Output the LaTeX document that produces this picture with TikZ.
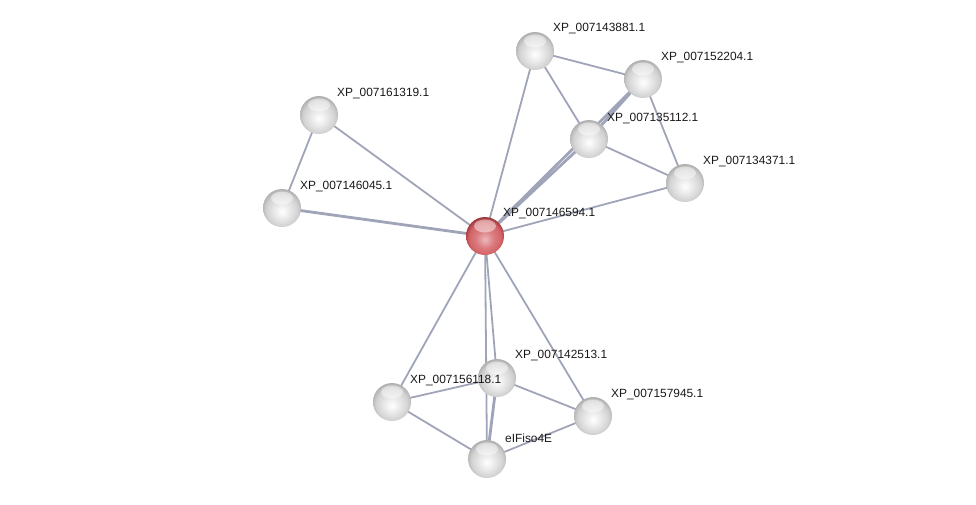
\documentclass[tikz,border=0pt]{standalone}
\usepackage{fontspec}
\setmainfont{Liberation Sans}
\usepackage{xcolor}
\usetikzlibrary{backgrounds}
\definecolor{linkgray}{RGB}{160,164,184}
\definecolor{ballred}{RGB}{212,100,104}
\definecolor{rimred}{RGB}{160,58,62}
\pgfdeclareradialshading{greyball}{\pgfpoint{0bp}{-5bp}}{color(0bp)=(white); color(12bp)=(gray!20); color(21bp)=(gray!36); color(27bp)=(gray!62); color(50bp)=(gray!62)}
\pgfdeclareradialshading{redball}{\pgfpoint{0bp}{-5bp}}{color(0bp)=(ballred!45!white); color(12bp)=(ballred!85!white); color(21bp)=(ballred); color(27bp)=(rimred); color(50bp)=(rimred)}

\begin{document}
\begin{tikzpicture}[x=1pt, y=-1pt,
  protein/.style={circle, minimum size=38pt, inner sep=0pt, shading=greyball,
    path picture={\fill[white, opacity=0.45] ([yshift=-9pt]path picture bounding box.north) ellipse (11pt and 6.5pt);}},
  query/.style={protein, shading=redball},
  tag/.style={anchor=west, inner sep=0pt, font=\fontsize{11.9}{13}\selectfont, text=black!90},
  link/.style={linkgray, line width=1.8pt},
  strong/.style={linkgray, line width=2.8pt}
]
  \useasboundingbox (0,0) rectangle (976,504);

  \node[query] (n0) at (485,236) {};
  \node[protein] (n1) at (535,51) {};
  \node[protein] (n2) at (643,79) {};
  \node[protein] (n3) at (589,139) {};
  \node[protein] (n4) at (685,183) {};
  \node[protein] (n5) at (319,115) {};
  \node[protein] (n6) at (282,208) {};
  \node[protein] (n7) at (497,378) {};
  \node[protein] (n8) at (392,402) {};
  \node[protein] (n9) at (593,416) {};
  \node[protein] (n10) at (487,459) {};

  \node[tag] (t0) at (503,214) {XP\_007146594.1};
  \node[tag] (t1) at (553,29) {XP\_007143881.1};
  \node[tag] (t2) at (661,58) {XP\_007152204.1};
  \node[tag] (t3) at (607,119) {XP\_007135112.1};
  \node[tag] (t4) at (703,162) {XP\_007134371.1};
  \node[tag] (t5) at (337,94) {XP\_007161319.1};
  \node[tag] (t6) at (300,187) {XP\_007146045.1};
  \node[tag] (t7) at (515,356) {XP\_007142513.1};
  \node[tag] (t8) at (410,381) {XP\_007156118.1};
  \node[tag] (t9) at (611,395) {XP\_007157945.1};
  \node[tag] (t10) at (505,438) {eIFiso4E};

  % edges behind the balls
  \begin{pgfonlayer}{background}
  \draw[link] (n0.center) -- (n1.center);
  \draw[strong] (n0.center) -- (n3.center);
  \draw[strong] (n0.center) -- (n2.center);
  \draw[link] (n0.center) -- (n4.center);
  \draw[link] (n0.center) -- (n5.center);
  \draw[strong] (n0.center) -- (n6.center);
  \draw[link] (n5.center) -- (n6.center);
  \draw[link] (n1.center) -- (n2.center);
  \draw[link] (n1.center) -- (n3.center);
  \draw[strong] (n3.center) -- (n2.center);
  \draw[link] (n2.center) -- (n4.center);
  \draw[link] (n3.center) -- (n4.center);
  \draw[link] (n0.center) -- (n8.center);
  \draw[link] (n0.center) -- (n7.center);
  \draw[link] (n0.center) -- (n10.center);
  \draw[link] (n0.center) -- (n9.center);
  \draw[link] (n8.center) -- (n7.center);
  \draw[link] (n8.center) -- (n10.center);
  \draw[link] (n7.center) -- (n9.center);
  \draw[strong] (n7.center) -- (n10.center);
  \draw[link] (n9.center) -- (n10.center);
  \end{pgfonlayer}
\end{tikzpicture}
\end{document}
